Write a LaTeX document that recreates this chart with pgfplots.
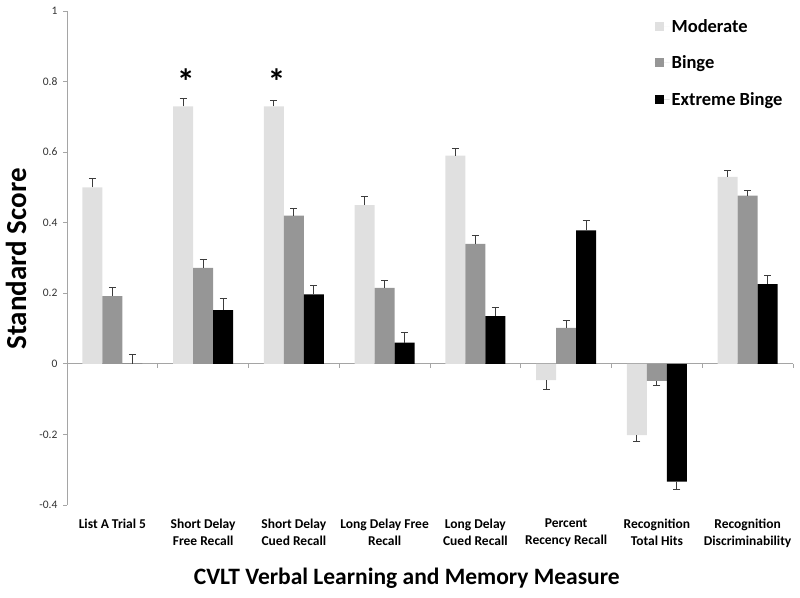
\documentclass[border=0pt]{standalone}
\usepackage{pgfplots}
\usepackage{pgfplotstable}
\pgfplotsset{compat=1.18}
\usepackage{fontspec}
\setmainfont{Carlito}
\definecolor{cmod}{RGB}{224,224,224}
\definecolor{cbin}{RGB}{150,150,150}
\definecolor{cext}{RGB}{0,0,0}
\definecolor{caxis}{RGB}{165,165,165}
\definecolor{cerr}{RGB}{60,60,60}
\pgfplotstableread{
x y e
1 0.5 0.027
2 0.73 0.022
3 0.73 0.018
4 0.45 0.025
5 0.59 0.02
6 -0.046 -0.025
7 -0.202 -0.017
8 0.53 0.018
}\moderate
\pgfplotstableread{
x y e
1 0.192 0.025
2 0.272 0.024
3 0.42 0.02
4 0.215 0.022
5 0.34 0.023
6 0.102 0.02
7 -0.048 -0.013
8 0.477 0.015
}\binge
\pgfplotstableread{
x y e
1 0 0.026
2 0.152 0.034
3 0.197 0.025
4 0.06 0.03
5 0.135 0.025
6 0.378 0.028
7 -0.334 -0.023
8 0.226 0.025
}\extreme
\begin{document}
\begin{tikzpicture}[x=1pt,y=1pt]
\begin{axis}[
  scale only axis, width=726pt, height=494pt,
  ybar=0pt, bar width=20pt,
  xmin=0.5, xmax=8.5, ymin=-0.4, ymax=1,
  axis y line*=left, axis x line*=bottom,
  y axis line style={-,draw=caxis,line width=0.8pt},
  x axis line style={draw=none},
  xtick={1,...,8},
  xticklabels={List A Trial 5, Short Delay\\Free Recall, Short Delay\\Cued Recall, Long Delay Free\\Recall, Long Delay\\Cued Recall, Percent\\Recency Recall, Recognition\\Total Hits, Recognition\\Discriminability},
  xticklabel style={align=center, font=\fontsize{13.5}{17}\selectfont\bfseries, yshift=-6pt},
  xtick style={draw=none},
  ytick={-0.4,-0.2,0,0.2,0.4,0.6,0.8,1},
  yticklabels={-0.4,-0.2,0,0.2,0.4,0.6,0.8,1},
  yticklabel style={font=\fontsize{11.5}{13}\selectfont, text=black!80, xshift=-2pt},
  ytick style={draw=caxis, line width=0.8pt},
  tick align=outside, major tick length=4pt,
  extra y ticks={0}, extra y tick labels={},
  extra y tick style={grid=major, major grid style={draw=caxis, line width=0.8pt}, tick style={draw=none}},
  ylabel={Standard Score},
  ylabel style={at={([xshift=-51pt]axis description cs:0,0.498)}, anchor=center, rotate=0, font=\fontsize{29}{32}\selectfont\bfseries},
  xlabel={CVLT Verbal Learning and Memory Measure},
  xlabel style={at={(axis description cs:0.468,0)}, anchor=center, yshift=-73pt, font=\fontsize{23.5}{26}\selectfont\bfseries},
  clip=false,
  legend cell align=left,
  legend style={at={(axis description cs:0.805,0.992)}, anchor=north west, draw=none, fill=none,
    font=\fontsize{18.5}{21}\selectfont\bfseries, row sep=18pt},
  legend image code/.code={\fill[#1,draw=none] (0pt,-4.5pt) rectangle (9.5pt,4.5pt); \path (0pt,0pt) -- (15pt,0pt);},
  error bars/y dir=plus, error bars/y explicit,
  error bars/error bar style={draw=cerr, line width=0.8pt},
  error bars/error mark options={draw=cerr, line width=0.8pt, mark size=3.5pt, rotate=90},
]
\addplot[fill=cmod, draw=none] table[x=x, y=y, y error=e] {\moderate};
\addplot[fill=cbin, draw=none] table[x=x, y=y, y error=e] {\binge};
\addplot[fill=cext, draw=none] table[x=x, y=y, y error=e] {\extreme};
\legend{Moderate, Binge, Extreme Binge}
\pgfplotsinvokeforeach{1.5,2.5,3.5,4.5,5.5,6.5,7.5,8.5}{\draw[caxis, line width=0.8pt] (axis cs:#1,0) -- ([yshift=-4pt]axis cs:#1,0);}
\node[font=\fontsize{36}{36}\selectfont\bfseries] at (axis cs:1.81,0.80) {*};
\node[font=\fontsize{36}{36}\selectfont\bfseries] at (axis cs:2.81,0.80) {*};
\coordinate (sw) at (rel axis cs:0,0);
\coordinate (ne) at (rel axis cs:1,1);
\end{axis}
\pgfresetboundingbox
\path[use as bounding box] ([shift={(-67pt,-92pt)}]sw) rectangle ([shift={(7pt,11pt)}]ne);
\end{tikzpicture}
\end{document}
